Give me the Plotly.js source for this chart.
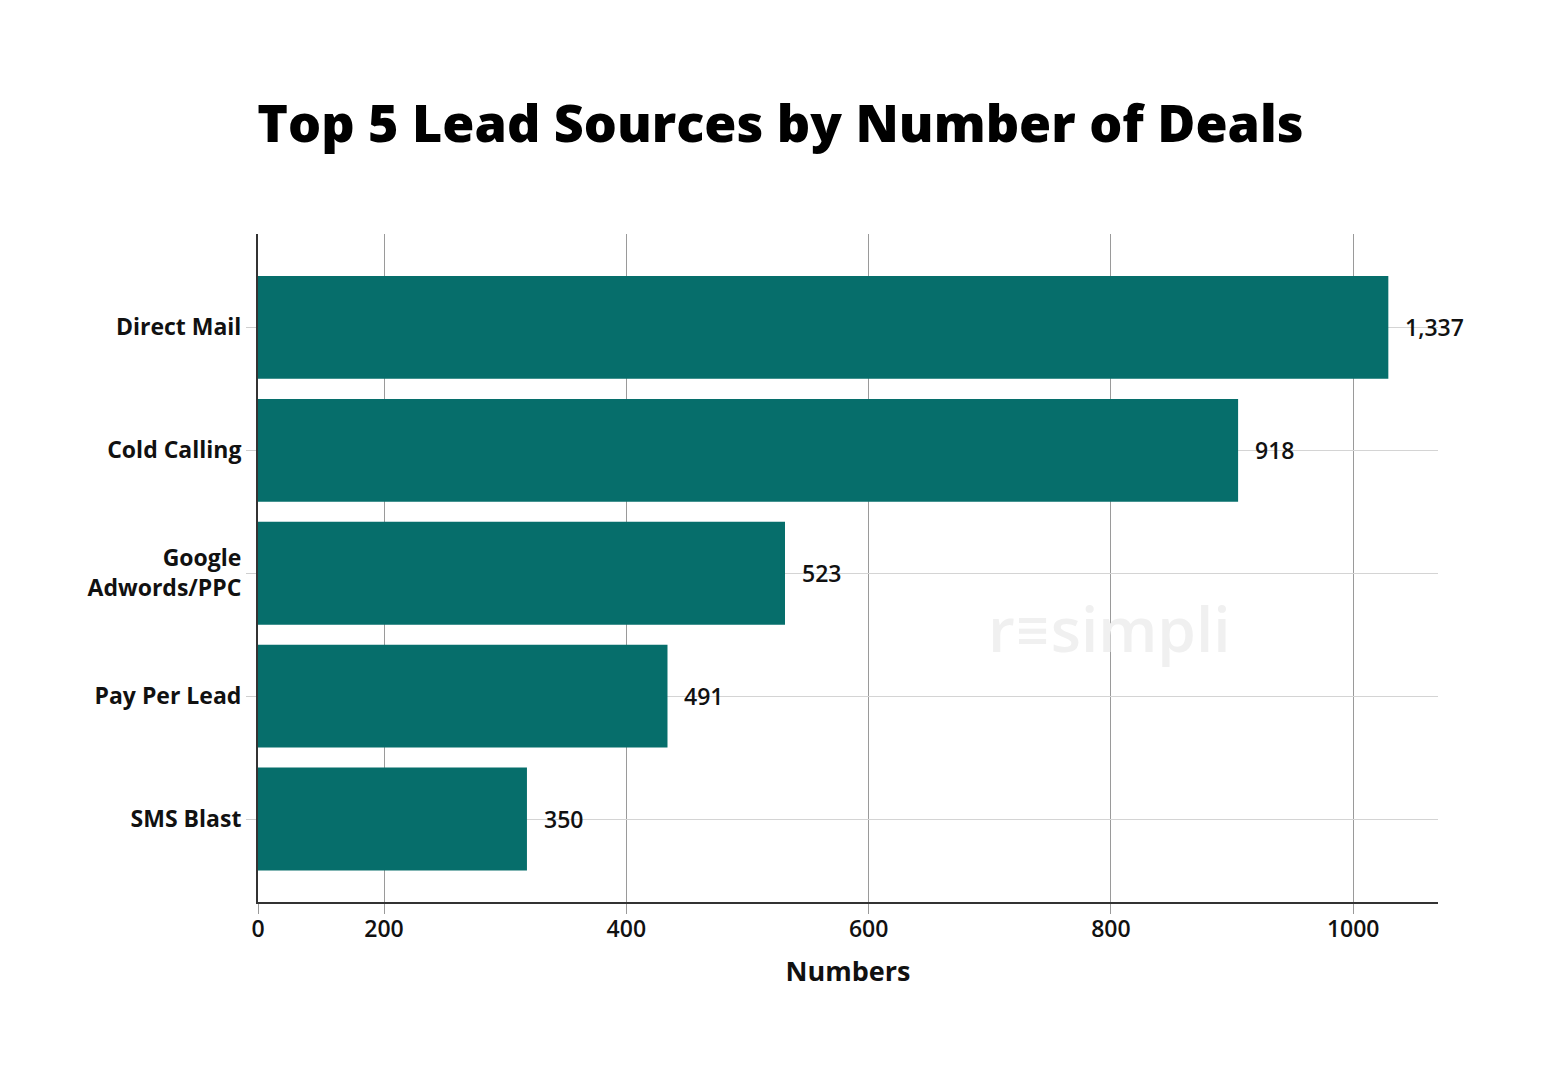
<!DOCTYPE html>
<html>
<head>
<meta charset="utf-8">
<script src="https://cdn.plot.ly/plotly-3.0.1.min.js"></script>
<style>html,body{margin:0;padding:0;background:#fff;}#chart{width:1561px;height:1080px;}</style>
</head>
<body>
<div id="chart"></div>
<script>
const categories = ['Direct Mail', 'Cold Calling', 'Google<br>Adwords/PPC', 'Pay Per Lead', 'SMS Blast'];
// bar lengths as drawn against the chart's axis
const barLengths = [1029, 905, 531, 434, 318];
// value labels printed next to each bar
const labelValues = ['1,337', '918', '523', '491', '350'];
const tickValues = [96, 200, 400, 600, 800, 1000];
const tickLabels = ['0', '200', '400', '600', '800', '1000'];

const FONT = '"Open Sans", Lato, sans-serif';

const trace = {
  type: 'bar',
  orientation: 'h',
  x: barLengths,
  y: categories,
  marker: {color: '#066E6B', line: {width: 0}},
  hoverinfo: 'none'
};

const annotations = categories.map((c, i) => ({
  x: barLengths[i], y: c, xref: 'x', yref: 'y',
  text: labelValues[i], showarrow: false,
  xanchor: 'left', yanchor: 'middle', xshift: 15,
  font: {family: FONT, size: 23, color: '#111', weight: 600}
}));
annotations.push({
  xref: 'paper', yref: 'paper', x: 0.722, y: 0.41,
  xanchor: 'center', yanchor: 'middle',
  text: 'r\u2261simpli', showarrow: false,
  font: {family: FONT, size: 62, color: '#f0f0f0', weight: 600}
});

const layout = {
  width: 1561, height: 1080,
  margin: {l: 258, r: 123, t: 234, b: 178},
  paper_bgcolor: '#fff', plot_bgcolor: '#fff',
  showlegend: false,
  bargap: 0.163,
  title: {
    text: 'Top 5 Lead Sources by Number of Deals',
    x: 0.5, xanchor: 'center', y: 0.885, yanchor: 'middle',
    font: {family: FONT, size: 52, color: '#000', weight: 800}
  },
  xaxis: {
    range: [96, 1070],
    tickvals: tickValues, ticktext: tickLabels,
    showgrid: true, gridcolor: '#9a9a9a', gridwidth: 1,
    zeroline: false,
    showline: true, linecolor: '#333', linewidth: 2,
    ticks: 'outside', ticklen: 10, tickcolor: '#9a9a9a', tickwidth: 1,
    ticklabelstandoff: -5,
    tickfont: {family: FONT, size: 23, color: '#111', weight: 600},
    title: {text: 'Numbers', standoff: 20, font: {family: FONT, size: 27, color: '#111', weight: 700}}
  },
  yaxis: {
    type: 'category',
    range: [4.675, -0.76],
    showgrid: true, gridcolor: '#d4d4d4', gridwidth: 1,
    zeroline: false,
    showline: true, linecolor: '#333', linewidth: 2,
    ticks: 'outside', ticklen: 10, tickcolor: '#cfcfcf', tickwidth: 1,
    tickfont: {family: FONT, size: 23, color: '#111', weight: 700}
  },
  annotations: annotations
};

Plotly.newPlot('chart', [trace], layout, {displayModeBar: false, staticPlot: true});
</script>
</body>
</html>
